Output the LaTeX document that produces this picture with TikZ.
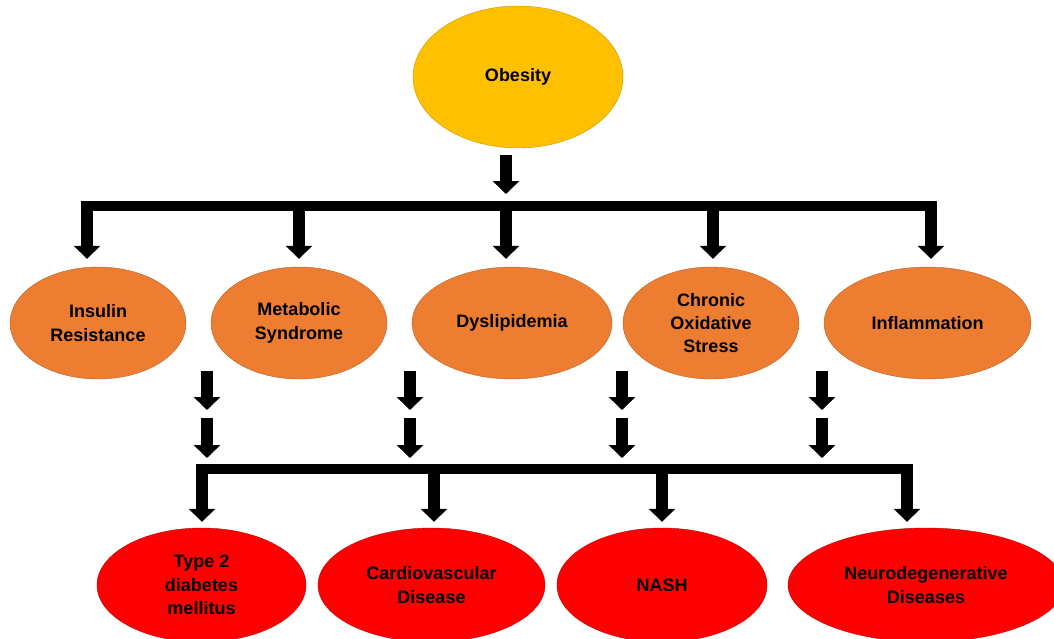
\documentclass[tikz,border=0pt]{standalone}
\usepackage{fontspec}
\setmainfont{Liberation Sans}
\usetikzlibrary{shapes.geometric,arrows.meta}
\definecolor{obyel}{HTML}{FFC000}
\definecolor{obyeld}{HTML}{C99700}
\definecolor{riskor}{HTML}{ED7D31}
\definecolor{riskord}{HTML}{B8612A}
\definecolor{disred}{HTML}{FF0000}
\definecolor{disredd}{HTML}{C00000}
\tikzstyle{yv}=[shape=ellipse,
                draw=obyeld,
                fill=obyel,
                minimum height=142pt,
                inner sep=0pt,
                align=center,
                font=\fontsize{18}{23.4}\selectfont\bfseries]
\tikzstyle{ov}=[shape=ellipse,
                draw=riskord,
                fill=riskor,
                minimum height=112pt,
                inner sep=0pt,
                align=center,
                font=\fontsize{18}{23.4}\selectfont\bfseries]
\tikzstyle{rv}=[shape=ellipse,
                draw=disredd,
                fill=disred,
                minimum height=114pt,
                inner sep=0pt,
                align=center,
                font=\fontsize{18}{23.4}\selectfont\bfseries]
\tikzstyle{blk}=[line width=12pt,
                 -{Triangle[width=26pt,length=13pt]}]
\tikzstyle{hb}=[line width=10pt]

\begin{document}
\begin{tikzpicture}[x=1pt,y=-1pt]
\useasboundingbox (0,0) rectangle (1054,638);

% cause node
\node[yv,minimum width=210pt] (ob) at (518,77) {Obesity};

% risk nodes (orange)
\node[ov,minimum width=176pt] (ir)  at (98,323)    {Insulin\\Resistance};
\node[ov,minimum width=176pt] (ms)  at (299,323)   {Metabolic\\Syndrome};
\node[ov,minimum width=200pt] (dl)  at (512,323)   {Dyslipidemia};
\node[ov,minimum width=176pt] (cos) at (711,323)   {Chronic\\Oxidative\\Stress};
\node[ov,minimum width=207pt] (inf) at (927.5,323) {Inflammation};

% disease nodes (red)
\node[rv,minimum width=209pt] (t2)   at (201.5,585) {Type 2\\diabetes\\mellitus};
\node[rv,minimum width=227pt] (cv)   at (431.5,585) {Cardiovascular\\Disease};
\node[rv,minimum width=210pt] (nash) at (662,585)   {NASH};
\node[rv,minimum width=276pt] (nd)   at (926,585)   {Neurodegenerative\\Diseases};

% obesity to upper bar
\coordinate (ub) at (506,206);
\draw[blk,shorten <=7pt,shorten >=12pt] (ob.south -| ub) -- (ub);
\coordinate (ubl) at (81,206);
\coordinate (ubr) at (937,206);
\draw[hb] (ubl) -- (ubr);
% upper bar to risk nodes
\foreach \x/\n in {87/ir,299/ms,506/dl,713/cos,931/inf}
  \draw[blk,shorten >=8pt] (\x,206) -- (\x,206 |- \n.north);

% double arrows between the rows
\foreach \x [count=\i] in {207,410,622,822} {
  \coordinate (da\i) at (\x,371);
  \coordinate (db\i) at (\x,410);
  \coordinate (dc\i) at (\x,418);
  \coordinate (dd\i) at (\x,458);
  \draw[blk] (da\i) -- (db\i);
  \draw[blk] (dc\i) -- (dd\i);
}

% lower bar to disease nodes
\coordinate (lbl) at (196,469);
\coordinate (lbr) at (913,469);
\draw[hb] (lbl) -- (lbr);
\foreach \x/\n in {202/t2,434/cv,662/nash,907/nd}
  \draw[blk,shorten >=6pt] (\x,469) -- (\x,469 |- \n.north);
\end{tikzpicture}
\end{document}
